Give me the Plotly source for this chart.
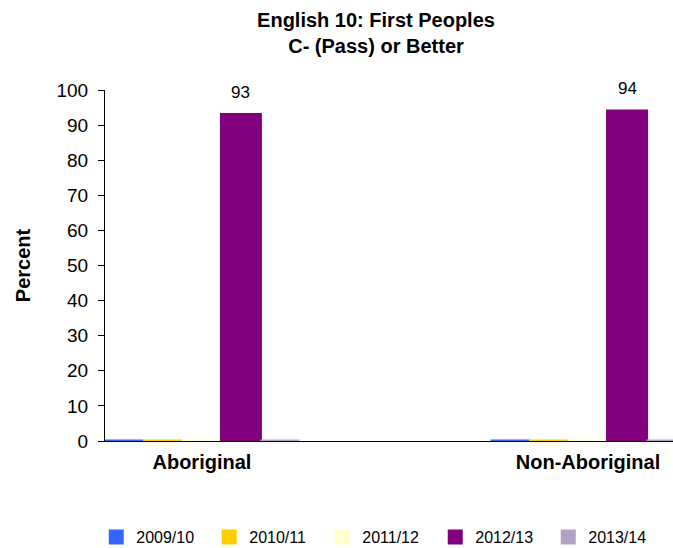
import plotly.graph_objects as go

categories = ["Aboriginal", "Non-Aboriginal"]
years = ["2009/10", "2010/11", "2011/12", "2012/13", "2013/14"]
values = {
    "2009/10": [0, 0],
    "2010/11": [0, 0],
    "2011/12": [0, 0],
    "2012/13": [93, 94],
    "2013/14": [0, 0],
}
fill_colors = ["#3366FF", "#FFCC00", "#FFFFCC", "#800080", "#B2A1C7"]

BARGAP = 0.495
fig = go.Figure()
xpos = list(range(len(categories)))
n = len(years)
bw = (1 - BARGAP) / n
for j, yr in enumerate(years):
    vals = values[yr]
    fig.add_trace(go.Bar(
        x=xpos, y=vals, name=yr,
        marker=dict(color=fill_colors[j], line=dict(color=fill_colors[j], width=3)),
        cliponaxis=True,
    ))
    for i, v in enumerate(vals):
        if v:
            fig.add_annotation(
                x=xpos[i] + (j - (n - 1) / 2) * bw, y=v, xref="x", yref="y",
                text=str(v), showarrow=False, yanchor="bottom", yshift=11,
                font=dict(family="Arial", size=17, color="black"),
            )

fig.update_layout(
    width=673, height=548,
    paper_bgcolor="white", plot_bgcolor="white",
    margin=dict(l=105, r=0, t=90, b=107, autoexpand=False),
    barmode="group", bargap=BARGAP, bargroupgap=0,
    font=dict(family="Arial", size=16, color="black"),
    title=dict(text="<b>English 10: First Peoples<br>C- (Pass) or Better</b>",
               x=376/673, xref="container", xanchor="center",
               y=1-27/548, yref="container", yanchor="middle",
               font=dict(family="Arial", size=20, color="black")),
    showlegend=True,
    legend=dict(orientation="h", xref="container", yref="container",
                x=0.143, xanchor="left", y=11/548, yanchor="middle",
                font=dict(family="Arial", size=16, color="black"),
                entrywidth=68, entrywidthmode="pixels",
                traceorder="normal"),
)
fig.update_xaxes(
    range=[-0.251, 1.22], tickvals=xpos, ticktext=[f"<b>{c}</b>" for c in categories],
    showline=True, linecolor="black", linewidth=1, ticks="",
    tickfont=dict(family="Arial", size=20, color="black"),
    ticklabelstandoff=3,
    showgrid=False, zeroline=False, automargin=False,
)
fig.update_yaxes(
    range=[0, 100], dtick=10, showline=True, linecolor="black", linewidth=1,
    ticks="outside", ticklen=6, tickcolor="black",
    tickfont=dict(family="Arial", size=19, color="black"),
    ticklabelstandoff=6,
    showgrid=False, zeroline=False, automargin=False,
    title=dict(text="<b>Percent</b>", font=dict(family="Arial", size=20, color="black"), standoff=20),
)
fig.write_html("out.html", config={"displayModeBar": False},
               post_script="document.body.style.margin='0';")
